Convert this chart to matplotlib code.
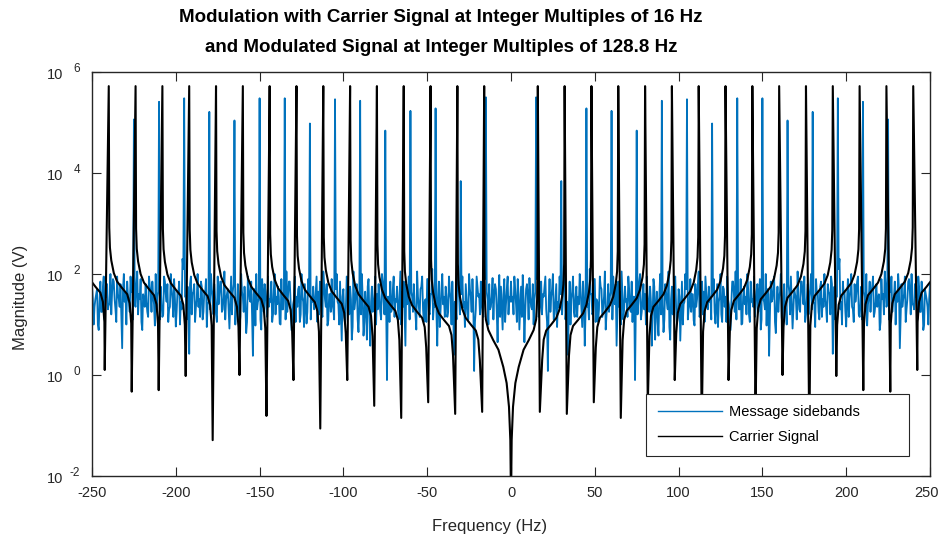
import numpy as np
import matplotlib
matplotlib.use('Agg')
import matplotlib.pyplot as plt
import matplotlib.transforms as mtransforms

plt.rcParams['font.family'] = ['Liberation Sans', 'DejaVu Sans']

# ------------------------------------------------------- Data (log10 of magnitude, positive half; spectrum is symmetric)

# Message sidebands: noise floor at whole Hz, 0 .. 250
NOISE_LOG = [
    1.85, 1.55, 1.95, 1.40, 1.90, 0.90, 1.75, 1.98, 0.65, 1.70,
    1.60, 1.92, 1.35, 1.80, 1.50, 1.70, 1.95, 1.25, 1.85, 1.60,
    1.75, 1.30, 0.08, 1.90, 1.55, 2.00, 1.20, 1.80, 1.45, 1.95,
    1.70, 1.60, 2.05, 1.35, 0.40, 1.85, 1.50, 1.95, 1.15, 1.75,
    1.55, 2.00, 1.30, 1.85, 0.58, 1.70, 1.40, 2.10, 1.60, 1.25,
    1.90, 1.50, 1.05, 1.95, 1.70, 1.35, 2.05, 1.20, 1.80, 1.55,
    1.70, 1.95, 1.40, 0.58, 1.85, 1.65, 2.05, 1.10, 1.75, 1.50,
    1.95, 1.30, 1.85, 1.55, -0.10, 1.70, 1.45, 2.00, 1.25, 1.80,
    1.60, 1.95, 1.35, 1.75, 0.58, 1.90, 0.70, 1.65, 0.78, 2.00,
    1.70, 0.85, 1.80, 1.45, 2.05, 0.70, 1.75, 1.55, 1.95, 1.02,
    1.70, 0.68, 1.85, 1.40, 2.00, 1.70, 1.30, 1.90, 1.60, 1.08,
    1.80, 1.50, 2.05, 1.25, 1.85, 1.65, 1.95, 1.35, 1.75, 1.55,
    1.70, 1.90, 1.02, 1.80, 1.45, 2.00, 1.05, 1.70, 1.55, 1.95,
    1.40, 0.89, 1.85, 1.60, 2.05, 1.70, 1.30, 1.90, 1.02, 1.75,
    1.55, 2.00, 1.20, 1.85, 1.50, 1.95, 1.35, 1.80, 1.60, 0.90,
    1.70, 1.45, 2.00, 1.70, 0.38, 1.85, 1.50, 1.95, 0.83, 1.75,
    1.55, 2.00, 0.96, 1.80, 1.45, 1.70, 1.65, 1.95, 0.92, 1.70,
    1.50, 2.05, 1.30, 1.85, 1.60, 1.95, 1.20, 1.80, 1.55, 2.00,
    1.70, 1.40, 1.90, 1.65, 1.10, 1.85, 1.50, 2.00, 1.35, 1.80,
    1.60, 1.95, 0.42, 1.75, 1.55, 1.70, 2.30, 1.45, 1.85, 1.65,
    0.96, 1.90, 1.50, 2.00, 1.30, 1.80, 1.60, 1.95, 1.15, 1.75,
    1.70, 1.55, 2.00, 1.40, 1.85, 1.65, 1.95, 1.25, 1.80, 1.50,
    0.89, 1.90, 1.60, 2.05, 1.35, 1.70, 1.75, 1.95, 1.45, 1.85,
    1.60, 2.00, 0.53, 1.80, 1.50, 1.95, 1.30, 1.85, 1.65, 2.00,
    1.40, 1.80, 1.55, 1.95, 1.25, 1.85, 0.89, 1.70, 1.50, 1.00,
    1.80,
]

# noise floor at the half-Hz bins, 0.5 .. 249.5
NOISE_HALF_LOG = [
    1.45, 1.20, 1.70, 1.05, 1.60, 1.35, 1.15, 1.50, 1.25, 1.80,
    1.10, 1.55, 1.30, 1.00, 1.65, 1.90, 1.15, 1.40, 1.20, 1.55,
    1.95, 1.05, 1.45, 1.25, 1.70, 1.10, 1.50, 0.95, 1.35, 1.60,
    1.20, 1.85, 1.10, 1.45, 1.30, 1.00, 1.65, 1.25, 1.55, 1.15,
    1.40, 1.70, 0.95, 1.50, 1.25, 1.35, 1.10, 1.60, 1.20, 1.90,
    1.05, 1.45, 1.30, 1.75, 1.15, 1.55, 0.90, 1.40, 1.25, 1.65,
    1.10, 1.50, 1.80, 1.20, 1.35, 1.00, 1.60, 1.30, 1.45, 1.15,
    1.70, 1.25, 1.05, 1.55, 1.40, 1.20, 1.85, 1.10, 1.50, 1.30,
    1.00, 1.60, 1.25, 1.45, 1.15, 1.75, 1.35, 1.05, 1.55, 1.20,
    1.40, 1.10, 1.65, 1.30, 0.95, 1.50, 1.20, 1.80, 1.35, 1.15,
    1.55, 1.25, 1.00, 1.45, 1.70, 1.10, 1.40, 1.25, 1.60, 0.98,
    1.35, 1.80, 1.15, 1.50, 1.20, 1.05, 1.65, 1.30, 1.45, 1.10,
    1.60, 1.25, 1.40, 0.95, 1.55, 1.20, 1.75, 1.35, 1.05, 1.50,
    1.15, 1.45, 1.85, 1.25, 1.10, 1.60, 1.30, 1.00, 1.55, 1.40,
    1.20, 1.70, 1.05, 1.45, 1.35, 1.15, 1.65, 1.25, 1.90, 1.10,
    1.50, 1.30, 0.98, 1.60, 1.20, 1.45, 1.75, 1.05, 1.40, 1.25,
    1.65, 1.15, 1.50, 1.35, 1.00, 1.80, 1.20, 1.45, 1.30, 1.60,
    1.10, 1.55, 1.25, 1.85, 1.40, 1.05, 1.50, 1.20, 1.70, 1.30,
    1.45, 0.95, 1.60, 1.25, 1.75, 1.15, 1.35, 1.50, 1.05, 1.65,
    1.20, 1.80, 1.40, 1.10, 1.55, 2.10, 1.30, 1.00, 1.60, 1.25,
    1.50, 1.15, 1.70, 1.35, 1.05, 1.45, 1.85, 1.20, 1.40, 1.10,
    1.65, 1.30, 0.98, 1.55, 1.25, 1.75, 1.15, 1.45, 1.35, 1.60,
    1.05, 1.50, 1.20, 1.80, 1.40, 1.10, 1.65, 1.25, 1.55, 1.00,
    1.45, 1.70, 1.15, 1.35, 1.60, 1.05, 1.50, 1.90, 1.20, 1.40,
    1.30, 1.55, 1.10, 1.75, 1.25, 1.45, 1.00, 1.60, 1.35, 1.50,
]

# Message sideband lines (multiples of 15 Hz)
SIDEBAND_HZ = [15, 30, 45, 60, 75, 90, 105, 120, 135, 150, 165, 180, 195, 210, 225]
SIDEBAND_LOG = [5.50, 3.84, 5.28, 5.23, 4.84, 5.43, 5.46, 4.98, 5.48, 5.48, 5.04, 5.21, 5.48, 5.41, 5.06]

# Carrier: central notch between 0 and 16 Hz
CARRIER_CENTER_HZ = [0, 0.4, 1.2, 2.6, 4.6, 7.5, 10.6, 13.5, 15.0, 15.6, 15.85]
CARRIER_CENTER_LOG = [-2.5, -1.29, -0.63, -0.16, 0.16, 0.50, 0.69, 0.89, 1.10, 1.50, 2.20]

# Carrier peaks at multiples of 16 Hz and the notch just beyond each one
CARRIER_PEAK_HZ = [16, 32, 48, 64, 80, 96, 112, 128, 144, 160, 176, 192, 208, 224, 240]
CARRIER_PEAK_LOG = [5.72] * 15
CARRIER_DIP_HZ = [17.2, 33.3, 49.4, 65.5, 81.6, 97.7, 113.8, 129.8, 145.9, 162.0, 178.0, 194.1, 210.2, 226.3, 242.4]
CARRIER_DIP_LOG = [-0.73, -0.77, -0.54, -0.85, -0.61, -0.10, -1.06, -0.10, -0.81, 0.00, -1.29, -0.02, -0.30, -0.33, 0.10]

# Carrier lobe between one peak and the next, read at these offsets (Hz) from the peak
LOBE_OFFSET_HZ = [2.6, 3.5, 5, 8, 11, 13, 14.5, 15.3, 15.7]
CARRIER_LOBE_LOG = [
    [0.30, 0.70, 0.88, 1.00, 1.13, 1.30, 1.55, 1.80, 2.20],
    [0.39, 0.79, 0.97, 1.09, 1.22, 1.39, 1.64, 1.89, 2.29],
    [0.55, 0.95, 1.13, 1.25, 1.38, 1.55, 1.80, 2.05, 2.45],
    [0.69, 1.09, 1.27, 1.39, 1.52, 1.69, 1.94, 2.19, 2.59],
    [0.77, 1.17, 1.35, 1.47, 1.60, 1.77, 2.02, 2.27, 2.67],
    [0.83, 1.23, 1.41, 1.53, 1.66, 1.83, 2.08, 2.33, 2.73],
    [0.86, 1.26, 1.44, 1.56, 1.69, 1.86, 2.11, 2.36, 2.76],
    [0.89, 1.29, 1.47, 1.59, 1.72, 1.89, 2.14, 2.39, 2.79],
    [0.92, 1.32, 1.50, 1.62, 1.75, 1.92, 2.17, 2.42, 2.82],
    [0.95, 1.35, 1.53, 1.65, 1.78, 1.95, 2.20, 2.45, 2.85],
    [0.98, 1.38, 1.56, 1.68, 1.81, 1.98, 2.23, 2.48, 2.88],
    [0.99, 1.39, 1.57, 1.69, 1.82, 1.99, 2.24, 2.49, 2.89],
    [1.00, 1.40, 1.58, 1.70, 1.83, 2.00, 2.25, 2.50, 2.90],
    [1.02, 1.42, 1.60, 1.72, 1.85, 2.02, 2.27, 2.52, 2.92],
    [1.05, 1.45, 1.63, 1.75, 1.88, 2.05, 2.30, 2.55, 2.95],
]

X_TICKS = [-250, -200, -150, -100, -50, 0, 50, 100, 150, 200, 250]
Y_TICK_EXP = [-2, 0, 2, 4, 6]

TITLE_1 = 'Modulation with Carrier Signal at Integer Multiples of 16 Hz'
TITLE_2 = 'and Modulated Signal at Integer Multiples of 128.8 Hz'

BLUE = '#0072BD'
AXIS_GRAY = '#262626'

# ------------------------------------------------------- Build symmetric series

def mirror(freq, logmag):
    freq = np.asarray(freq, dtype=float)
    logmag = np.asarray(logmag, dtype=float)
    order = np.argsort(freq)
    freq, logmag = freq[order], logmag[order]
    pos = freq > 0
    full_f = np.concatenate([-freq[pos][::-1], freq])
    full_m = np.concatenate([logmag[pos][::-1], logmag])
    return full_f, 10.0 ** full_m

# sidebands: whole-Hz bins (with the sideband lines) plus half-Hz bins
noise = list(NOISE_LOG)
for f, v in zip(SIDEBAND_HZ, SIDEBAND_LOG):
    noise[f] = v
msg_hz = list(range(len(noise))) + [i + 0.5 for i in range(len(NOISE_HALF_LOG))]
msg_f, msg_mag = mirror(msg_hz, noise + NOISE_HALF_LOG)

# carrier
car_f = list(CARRIER_CENTER_HZ)
car_m = list(CARRIER_CENTER_LOG)
for pk, pv, dk, dv, lobe in zip(CARRIER_PEAK_HZ, CARRIER_PEAK_LOG, CARRIER_DIP_HZ, CARRIER_DIP_LOG, CARRIER_LOBE_LOG):
    car_f += [pk, dk] + [pk + o for o in LOBE_OFFSET_HZ]
    car_m += [pv, dv] + lobe
car_f, car_mag = mirror(car_f, car_m)

# ------------------------------------------------------- Plot

fig = plt.figure(figsize=(9.38, 5.40), dpi=100)
ax = fig.add_axes([92 / 938, 1 - 476 / 540, 838 / 938, 404 / 540])

ax.semilogy(msg_f, msg_mag, color=BLUE, linewidth=1.3, label='Message sidebands')
ax.semilogy(car_f, car_mag, color='black', linewidth=1.5, label='Carrier Signal')

ax.set_xlim(-250, 250)
ax.set_ylim(1e-2, 1e6)
ax.set_xticks(X_TICKS)
ax.set_xticklabels([str(t) for t in X_TICKS])
ax.set_yticks([10.0 ** e for e in Y_TICK_EXP])
ax.yaxis.set_minor_locator(matplotlib.ticker.NullLocator())
ax.tick_params(axis='both', which='major', direction='in', length=6.5, width=0.8,
               color=AXIS_GRAY, labelcolor=AXIS_GRAY, labelsize=10.5,
               top=True, right=True, labelleft=False, pad=7)
for sp in ax.spines.values():
    sp.set_color(AXIS_GRAY)
    sp.set_linewidth(1.0)

# keep the last x label inside the figure, as in the original
last = ax.get_xticklabels()[-1]
last.set_transform(last.get_transform() + mtransforms.ScaledTranslation(-4 / 100, 0, fig.dpi_scale_trans))

# y tick labels in the "10 ^n" style
trans = mtransforms.blended_transform_factory(ax.transAxes, ax.transData)
for e in Y_TICK_EXP:
    ax.annotate('10', xy=(0, 10.0 ** e), xycoords=trans, xytext=(-21, -2.5),
                textcoords='offset points', ha='right', va='center',
                fontsize=10.5, color=AXIS_GRAY, annotation_clip=False)
    ax.annotate(str(e), xy=(0, 10.0 ** e), xycoords=trans, xytext=(-8.5, 2.5),
                textcoords='offset points', ha='right', va='center',
                fontsize=8.5, color=AXIS_GRAY, annotation_clip=False)

leg = ax.legend(loc='lower left', bbox_to_anchor=(554 / 838, 20 / 404, 263 / 838, 63 / 404),
                mode='expand', borderaxespad=0, fontsize=10.5, handlelength=4.4,
                handletextpad=0.5, labelspacing=0.75, borderpad=0.8, fancybox=False,
                framealpha=1, edgecolor=AXIS_GRAY)
leg.get_frame().set_linewidth(0.8)
for line in leg.get_lines():
    line.set_linewidth(1.0)

fig.text(441 / 938, 1 - 18 / 540, TITLE_1, ha='center', va='center', fontsize=13.5, fontweight='bold')
fig.text(441 / 938, 1 - 48 / 540, TITLE_2, ha='center', va='center', fontsize=13.5, fontweight='bold')
fig.text(490 / 938, 1 - 527 / 540, 'Frequency (Hz)', ha='center', va='center', fontsize=12, color=AXIS_GRAY)
fig.text(20 / 938, 1 - 297 / 540, 'Magnitude (V)', ha='center', va='center', rotation=90, fontsize=12, color=AXIS_GRAY)

fig.savefig('out.png', dpi=100)
